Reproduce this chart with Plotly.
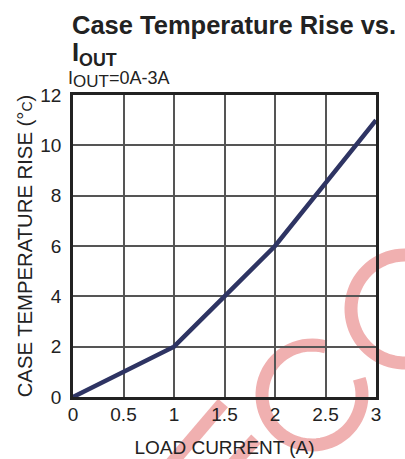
import numpy as np
import plotly.graph_objects as go

# ---- data ----
load_current = [0, 0.5, 1, 1.5, 2, 2.5, 3]
temp_rise = [0, 1, 2, 4, 6, 8.5, 11]
x_ticks = [0, 0.5, 1, 1.5, 2, 2.5, 3]
x_tick_labels = ["0", "0.5", "1", "1.5", "2", "2.5", "3"]
y_ticks = [0, 2, 4, 6, 8, 10, 12]
y_tick_labels = ["0", "2", "4", "6", "8", "10", "12"]

W, H = 405, 459
L, R, T, B = 73, 29, 95, 62
PW, PH = W - L - R, H - T - B
FONT = "Liberation Sans, Arial, sans-serif"

def px2paper(px, py):
    return (px - L) / PW, (H - B - py) / PH

def arc_path(cx, cy, r, a0, a1, n=60):
    angs = np.radians(np.linspace(a0, a1, n))
    pts = [px2paper(cx + r * np.cos(a), cy - r * np.sin(a)) for a in angs]
    return "M " + " L ".join(f"{x:.4f},{y:.4f}" for x, y in pts)

def seg_path(p0, p1):
    a = px2paper(*p0); b = px2paper(*p1)
    return f"M {a[0]:.4f},{a[1]:.4f} L {b[0]:.4f},{b[1]:.4f}"

pink = "rgb(240,176,176)"
wm_paths = [
    arc_path(312, 395, 50, 74, 379),
    arc_path(405, 309, 54, 60, 320),
    seg_path((170, 465), (223, 403)),
    seg_path((232, 465), (256, 439)),
]
shapes = [dict(type="path", path=p, xref="paper", yref="paper",
               line=dict(color=pink, width=13), layer="below")
          for p in wm_paths]

def label(text, px, py, size, bold=False):
    x, _ = px2paper(px, 0)
    _, y = px2paper(0, py)
    return dict(text=f"<b>{text}</b>" if bold else text, xref="paper", yref="paper",
                x=x, y=y, xanchor="left", yanchor="middle", showarrow=False,
                font=dict(size=size, color="#222222"))

fig = go.Figure()
fig.add_trace(go.Scatter(x=load_current, y=temp_rise, mode="lines",
                         line=dict(color="#2e3463", width=4.5),
                         showlegend=False, hoverinfo="skip"))

axis_common = dict(showgrid=True, gridcolor="#555555", gridwidth=1.5,
                   showline=True, linecolor="#222222", linewidth=2.5,
                   mirror=True, ticks="", zeroline=False, automargin=False,
                   tickfont=dict(family=FONT, size=19, color="#222222"))

fig.update_layout(
    width=W, height=H,
    margin=dict(l=L, r=R, t=T, b=B),
    paper_bgcolor="white", plot_bgcolor="rgba(0,0,0,0)",
    font=dict(family=FONT, color="#222222"),
    shapes=shapes,
    xaxis=dict(range=[0, 3], tickvals=x_ticks, ticktext=x_tick_labels,
               ticklabelstandoff=-2,
               title=dict(text="LOAD CURRENT (A)", font=dict(size=19), standoff=18),
               **axis_common),
    yaxis=dict(range=[0, 12], tickvals=y_ticks, ticktext=y_tick_labels,
               ticklabelstandoff=5,
               title=dict(text="CASE TEMPERATURE RISE (°<span style='font-size:14px'>C</span>)",
                          font=dict(size=20.3), standoff=3),
               **axis_common),
    annotations=[
        label("Case Temperature Rise vs.", 70, 25, 25.5, bold=True),
        label("I<sub>OUT</sub>", 70, 54, 25.5, bold=True),
        label("I", 66, 78, 18),
        label("OUT", 71, 81.5, 17),
        label("=0A-3A", 107, 78, 18),
    ],
)

fig.write_html("out.html", config={"displayModeBar": False},
               post_script="document.body.style.margin='0';document.body.style.overflow='hidden';")
